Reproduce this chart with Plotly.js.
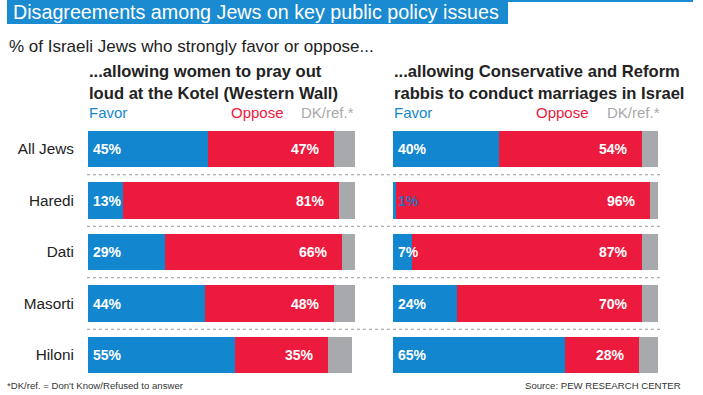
<!DOCTYPE html>
<html>
<head>
<meta charset="utf-8">
<script src="https://cdn.plot.ly/plotly-3.0.1.min.js"></script>
<style>
html,body{margin:0;padding:0;background:#fff;}
#chart{width:703px;height:395px;}
</style>
</head>
<body>
<div id="chart"></div>
<script>
const categories = ["All Jews", "Haredi", "Dati", "Masorti", "Hiloni"];
const kotelFavor = [45, 13, 29, 44, 55];
const kotelOppose = [47, 81, 66, 48, 35];
const kotelDK = [8, 6, 5, 8, 9];
const marriageFavor = [40, 1, 7, 24, 65];
const marriageOppose = [54, 96, 87, 70, 28];
const marriageDK = [6, 3, 6, 7, 7];
const panelTitles = ["...allowing women to pray out<br>loud at the Kotel (Western Wall)",
                     "...allowing Conservative and Reform<br>rabbis to conduct marriages in Israel"];
const legendLabels = ["Favor", "Oppose", "DK/ref.*"];

const BLUE = "#1287d0", RED = "#ec1b3d", GRAY = "#a8a9ad";
const W = 703, H = 395;
const FONT = "Liberation Sans, Arial, sans-serif";
const NARROW = "Liberation Sans Narrow, Liberation Sans, Arial, sans-serif";

function bar(x, color, xa, name) {
  return {type: "bar", orientation: "h", x: x, y: categories, xaxis: xa, yaxis: "y",
          marker: {color: color, line: {width: 0}}, width: 0.70, name: name,
          hoverinfo: "skip", showlegend: false};
}
const data = [
  bar(kotelFavor, BLUE, "x", "Favor"), bar(kotelOppose, RED, "x", "Oppose"), bar(kotelDK, GRAY, "x", "DK"),
  bar(marriageFavor, BLUE, "x2", "Favor"), bar(marriageOppose, RED, "x2", "Oppose"), bar(marriageDK, GRAY, "x2", "DK")
];

const annotations = [];
function labels(fav, opp, xr) {
  categories.forEach((c, i) => {
    const small = fav[i] < 3;
    annotations.push({xref: xr, yref: "y", x: 0, y: c, text: fav[i] + "%", showarrow: false,
      xanchor: "left", xshift: 3, font: {family: FONT, size: 14, color: small ? "#2f6db5" : "#fff", weight: 700}});
    annotations.push({xref: xr, yref: "y", x: fav[i] + opp[i], y: c, text: opp[i] + "%", showarrow: false,
      xanchor: "right", xshift: -12, font: {family: FONT, size: 14, color: "#fff", weight: 700}});
  });
}
labels(kotelFavor, kotelOppose, "x");
labels(marriageFavor, marriageOppose, "x2");

function P(px) { return px / W; }
function PY(py) { return 1 - py / H; }

annotations.push({xref: "paper", yref: "paper", x: P(11), y: PY(12), xanchor: "left", yanchor: "middle",
  text: "Disagreements among Jews on key public policy issues", showarrow: false,
  font: {family: FONT, size: 19.7, color: "#fff"}});
annotations.push({xref: "paper", yref: "paper", x: P(7), y: PY(47), xanchor: "left", yanchor: "middle",
  text: "% of Israeli Jews who strongly favor or oppose...", showarrow: false,
  font: {family: FONT, size: 17, color: "#222"}});
const panelPos = [{x: 88, opp: 284, dk: 354}, {x: 393, opp: 589, dk: 660}];
panelPos.forEach((p, k) => {
  annotations.push({xref: "paper", yref: "paper", x: P(p.x - 1), y: PY(82.5), xanchor: "left", yanchor: "middle",
    text: panelTitles[k], showarrow: false, align: "left",
    font: {family: FONT, size: 16.6, color: "#222", weight: 700}});
  annotations.push({xref: "paper", yref: "paper", x: P(p.x - 1), y: PY(113), xanchor: "left", yanchor: "middle",
    text: legendLabels[0], showarrow: false, font: {family: FONT, size: 15, color: BLUE}});
  annotations.push({xref: "paper", yref: "paper", x: P(p.opp + 2), y: PY(113), xanchor: "right", yanchor: "middle",
    text: legendLabels[1], showarrow: false, font: {family: FONT, size: 15, color: RED}});
  annotations.push({xref: "paper", yref: "paper", x: P(p.dk + 2), y: PY(113), xanchor: "right", yanchor: "middle",
    text: legendLabels[2], showarrow: false, font: {family: FONT, size: 15, color: "#a8a9ad"}});
});
annotations.push({xref: "paper", yref: "paper", x: P(5), y: PY(385), xanchor: "left", yanchor: "middle",
  text: "*DK/ref. = Don't Know/Refused to answer", showarrow: false,
  font: {family: NARROW, size: 9.6, color: "#333"}});
annotations.push({xref: "paper", yref: "paper", x: P(683), y: PY(385), xanchor: "right", yanchor: "middle",
  text: "Source: PEW RESEARCH CENTER", showarrow: false,
  font: {family: NARROW, size: 9.6, color: "#333"}});

const shapes = [
  {type: "rect", xref: "paper", yref: "paper", x0: P(7), x1: P(508), y0: PY(24), y1: PY(0),
   fillcolor: "#1a8bd0", line: {width: 0}, layer: "below"},
  {type: "rect", xref: "paper", yref: "paper", x0: P(7), x1: P(693), y0: PY(2), y1: PY(0),
   fillcolor: "#1a8bd0", line: {width: 0}, layer: "below"}
];
[0.5, 1.5, 2.5, 3.5].forEach(v => {
  shapes.push({type: "line", xref: "paper", yref: "y", x0: P(87), x1: P(661), y0: v, y1: v,
    line: {color: "#999", width: 1, dash: "dot"}});
});

const layout = {
  width: W, height: H, margin: {l: 0, r: 0, t: 0, b: 0},
  paper_bgcolor: "#fff", plot_bgcolor: "rgba(0,0,0,0)",
  barmode: "stack", bargap: 0, showlegend: false,
  font: {family: FONT},
  xaxis: {domain: [P(88), P(355)], range: [0, 100], visible: false, fixedrange: true},
  xaxis2: {domain: [P(393), P(658)], range: [0, 100], visible: false, fixedrange: true, anchor: "y"},
  yaxis: {domain: [PY(380.75), PY(123.25)], range: [4.5, -0.5], type: "category",
    categoryorder: "array", categoryarray: categories,
    showgrid: false, zeroline: false, showline: false, ticks: "outside", ticklen: 10,
    tickcolor: "rgba(0,0,0,0)", tickfont: {family: FONT, size: 15.3, color: "#222"}, fixedrange: true},
  annotations: annotations, shapes: shapes
};
Plotly.newPlot("chart", data, layout, {displayModeBar: false, staticPlot: true});
</script>
</body>
</html>
